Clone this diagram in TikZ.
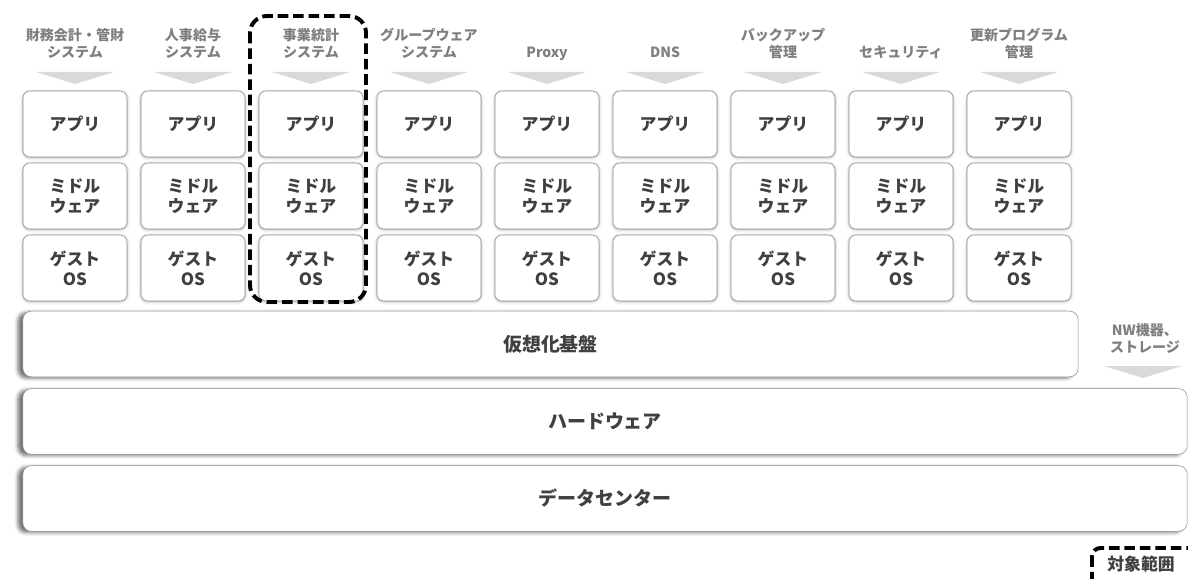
\documentclass[tikz,border=0pt]{standalone}
\usepackage{fontspec}
\setmainfont{Noto Sans CJK JP}
\usetikzlibrary{shadows.blur}
\definecolor{boxtext}{HTML}{404040}
\definecolor{labeltext}{HTML}{7F7F7F}
\definecolor{boxline}{HTML}{8C8C8C}
\definecolor{arrowfill}{HTML}{D9D9D9}

\begin{document}
\begin{tikzpicture}[x=0.025cm, y=-0.025cm,
    layerbox/.style={draw=boxline, fill=white, rounded corners=5pt,
        minimum width=2.6cm, minimum height=1.65cm, align=center,
        font=\bfseries\fontsize{12}{14}\selectfont, text=boxtext,
        blur shadow={shadow xshift=0pt, shadow yshift=-0.5pt,
            shadow blur radius=2pt, shadow opacity=35}},
    basebox/.style={draw=boxline, fill=white, rounded corners=6pt,
        minimum height=1.64cm,
        font=\bfseries\fontsize{13.5}{15}\selectfont, text=boxtext,
        blur shadow={shadow xshift=-3.5pt, shadow yshift=-1pt,
            shadow blur radius=2.5pt, shadow opacity=55}},
    toplabel/.style={align=center, inner sep=0pt, text depth=2.5pt,
        text=labeltext, font=\bfseries\fontsize{10}{12}\selectfont},
    scopeline/.style={line width=2.8pt, dash pattern=on 7.5pt off 3.5pt,
        rounded corners=12pt}]
    \useasboundingbox (0,0) rectangle (1188,578);

    % system columns
    \foreach \lbl [count=\i] in {{財務会計・管財\\システム}, {人事給与\\システム},
        {事業統計\\システム}, {グループウェア\\システム}, Proxy, DNS,
        {バックアップ\\管理}, セキュリティ, {更新プログラム\\管理}} {
        \pgfmathsetmacro\cx{75+118*(\i-1)}
        \node[toplabel, anchor=south] (lbl\i) at (\cx,61) {\lbl};
        \fill[arrowfill] (\cx-39,72) -- (\cx+39,72) -- (\cx,84) -- cycle;
        \node[layerbox] (app\i) at (\cx,124) {アプリ};
        \node[layerbox] (mw\i) at (\cx,196) {ミドル\\ウェア};
        \node[layerbox] (os\i) at (\cx,268) {ゲスト\\OS};
    }

    % base layers
    \node[basebox, minimum width=26.375cm] (virt) at (550.5,344) {仮想化基盤};
    \node[basebox, minimum width=29.1cm] (hw) at (605,421.5) {ハードウェア};
    \node[basebox, minimum width=29.1cm] (dc) at (605,498.5) {データセンター};

    \node[toplabel, anchor=south] (nw) at (1145,356) {NW機器、\\ストレージ};
    \fill[arrowfill] (1104,366) -- (1182,366) -- (1143,378) -- cycle;

    % target scope
    \draw[scopeline] (250,16) rectangle (366,302);
    \draw[scopeline, rounded corners=6pt] (1092,548) rectangle (1200,595);
    \node[text=boxtext, font=\bfseries\fontsize{12}{14}\selectfont]
        (scope) at (1141,564) {対象範囲};
\end{tikzpicture}
\end{document}
